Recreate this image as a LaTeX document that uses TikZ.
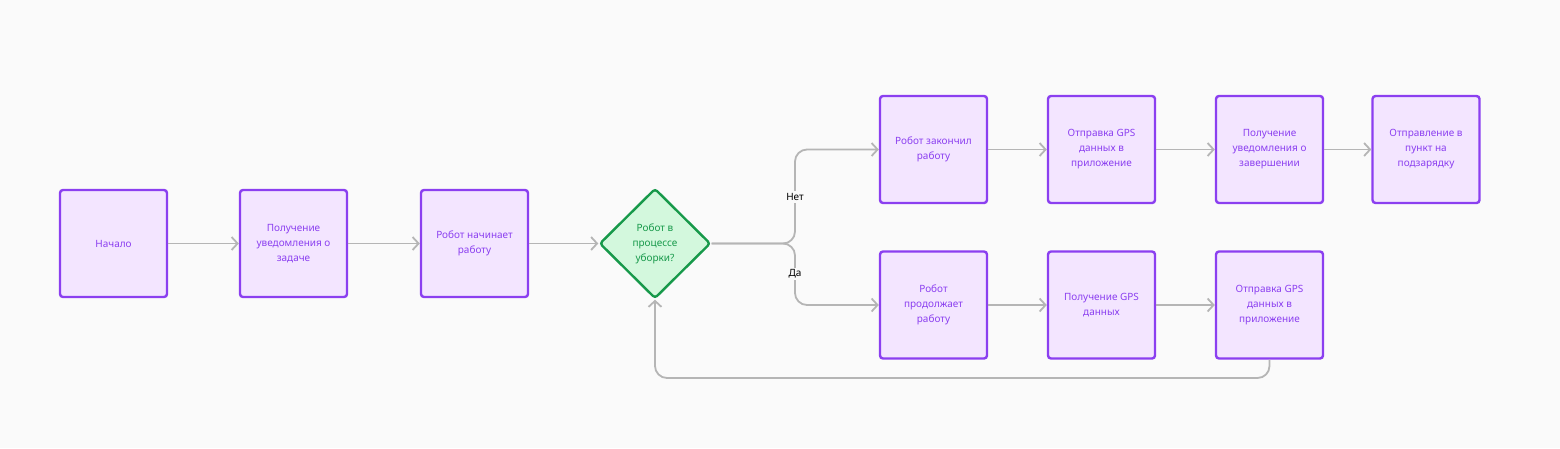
\documentclass[tikz,border=0pt]{standalone}
\usepackage{fontspec}
\setmainfont{Noto Sans}
\usetikzlibrary{shapes.geometric,arrows.meta}
\definecolor{bg}{HTML}{FAFAFA}
\definecolor{boxfill}{HTML}{F3E5FF}
\definecolor{boxline}{HTML}{8B3FF0}
\definecolor{boxtext}{HTML}{8B3FF0}
\definecolor{dfill}{HTML}{D3F8DD}
\definecolor{dline}{HTML}{17994A}
\definecolor{dtext}{HTML}{17994A}
\definecolor{edge}{HTML}{B5B5B5}
\tikzset{
  stepbox/.style={draw=boxline, fill=boxfill, line width=2.4pt, rounded corners=3pt,
    minimum width=107pt, minimum height=107pt, inner sep=0pt, text=boxtext,
    font=\fontsize{10}{15}\selectfont, align=center},
  decide/.style={diamond, draw=dline, fill=dfill, line width=2.4pt, rounded corners=3pt,
    minimum width=111pt, minimum height=110pt, inner sep=0pt, text=dtext,
    font=\fontsize{10}{15}\selectfont, align=center},
  conn/.style={draw=edge, line width=1.8pt, -{Straight Barb[length=6pt,width=13pt,line width=1.8pt]}},
  lbl/.style={fill=bg, inner sep=2pt, text=black, font=\fontsize{10}{12}\selectfont}
}
\begin{document}
\begin{tikzpicture}[x=1pt,y=-1pt]
\fill[bg] (0,0) rectangle (1560,448);
\useasboundingbox (0,0) rectangle (1560,448);
\node[stepbox] (start) at (113.5,243.5) {Начало};
\node[stepbox] (notif) at (293.5,243.5) {Получение\\уведомления о\\задаче};
\node[stepbox] (begin) at (474.5,243.5) {Робот начинает\\работу};
\node[decide] (dec) at (655,243.5) {Робот в\\процессе\\уборки?};
\node[stepbox] (fin) at (933.5,149.5) {Робот закончил\\работу};
\node[stepbox] (gps1) at (1101.5,149.5) {Отправка GPS\\данных в\\приложение};
\node[stepbox] (done) at (1269.5,149.5) {Получение\\уведомления о\\завершении};
\node[stepbox] (charge) at (1426,149.5) {Отправление в\\пункт на\\подзарядку};
\node[stepbox] (cont) at (933.5,305) {Робот\\продолжает\\работу};
\node[stepbox] (gps2) at (1101.5,305) {Получение GPS\\данных};
\node[stepbox] (gps3) at (1269.5,305) {Отправка GPS\\данных в\\приложение};
\coordinate (fork) at (795,243.5);
\path[conn] (start) -- (notif);
\path[conn] (notif) -- (begin);
\path[conn] (begin) -- (dec);
\path[conn, rounded corners=12pt] (dec.east) -- (fork) -- (fork |- fin.west) -- (fin.west);
\path[conn, rounded corners=12pt] (dec.east) -- (fork) -- (fork |- cont.west) -- (cont.west);
\path[conn] (fin) -- (gps1);
\path[conn] (gps1) -- (done);
\path[conn] (done) -- (charge);
\path[conn] (cont) -- (gps2);
\path[conn] (gps2) -- (gps3);
\coordinate (loopr) at (1269.5,378);
\path[conn, rounded corners=12pt] (gps3.south) -- (loopr) -- (loopr -| dec.south) -- (dec.south);
\node[lbl] (no) at (795,197) {Нет};
\node[lbl] (yes) at (795,274) {Да};
\end{tikzpicture}
\end{document}
